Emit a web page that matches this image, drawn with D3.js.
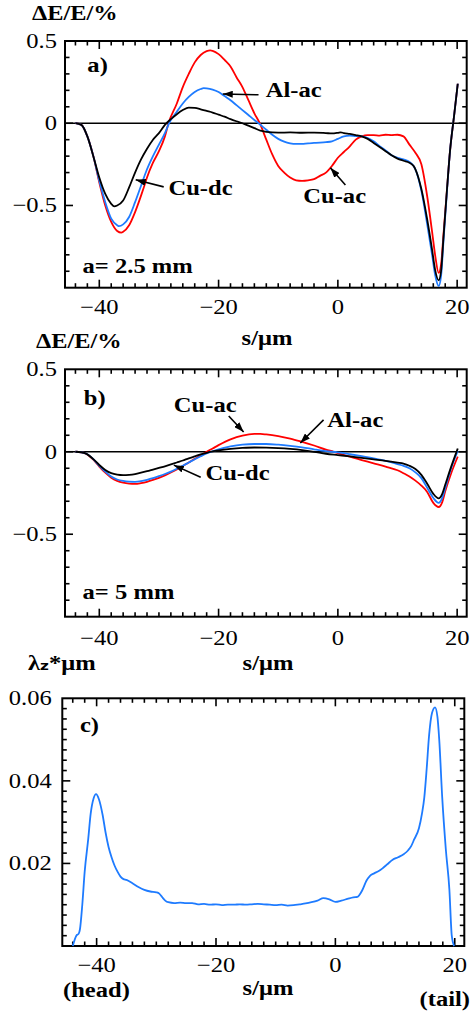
<!DOCTYPE html>
<html><head><meta charset="utf-8">
<script src="https://cdn.jsdelivr.net/npm/d3@7"></script>
<style>html,body{margin:0;padding:0;background:#fff}svg{display:block}</style>
</head><body><svg id="chart" width="475" height="1016"></svg>
<script>
// ---------- tick labels ----------
const xTicksMajor = [-40, -20, 0, 20];
const xTickLabels = ["\u221240", "\u221220", "0", "20"];
const yTicksAB = [0.5, 0, -0.5];
const yTickLabelsAB = ["0.5", "0", "\u22120.5"];
const yTicksC = [0.02, 0.04, 0.06];
const yTickLabelsC = ["0.02", "0.04", "0.06"];

// ---------- panel a (a = 2.5 mm) ----------
const aCuDcS = [-44,-43,-42,-41,-40,-39,-38,-37.5,-37,-36,-35,-34,-33,-32,-31,-30,-29,-28,-27,-26,-25,-24,-23,-22,-21,-20,-19,-18,-17,-16,-15,-14,-13,-12,-10,-8,-6,-4,-2,-1,0,0.5,1,2,3,4,5,6,7,8,9,10,11,12,12.7,13,14,15,15.8,16.3,16.9,17.3,17.7,18.3,18.8,19.5,20.1];
const aCuDcV = [0,-0.01,-0.08,-0.2,-0.33,-0.43,-0.49,-0.505,-0.5,-0.47,-0.39,-0.3,-0.22,-0.155,-0.1,-0.06,-0.01,0.025,0.055,0.08,0.095,0.093,0.085,0.075,0.065,0.052,0.04,0.025,0.012,0,-0.015,-0.03,-0.045,-0.052,-0.057,-0.056,-0.058,-0.057,-0.06,-0.062,-0.058,-0.055,-0.06,-0.065,-0.072,-0.08,-0.095,-0.12,-0.145,-0.17,-0.195,-0.215,-0.228,-0.24,-0.26,-0.28,-0.4,-0.59,-0.77,-0.89,-0.955,-0.9,-0.7,-0.4,-0.17,0.05,0.24];

const aAlAcS = [-44,-43,-42,-41,-40,-39,-38,-37,-36.7,-36,-35,-34,-33,-32,-31,-30,-29,-28.3,-27,-26,-25,-24,-23,-22.5,-22,-21,-20,-19,-18,-17,-16,-15,-14,-13.3,-12,-11,-10,-9,-8,-7,-6,-5,-4,-3,-2,-1,0,1,2,3,4,5,6,7,8,9,10,11,12,12.7,13,14,15,15.8,16.3,16.9,17.3,17.7,18.3,18.8,19.5,20.1];
const aAlAcV = [0,-0.01,-0.08,-0.2,-0.35,-0.48,-0.58,-0.62,-0.626,-0.615,-0.57,-0.48,-0.38,-0.28,-0.2,-0.13,-0.06,0,0.07,0.12,0.16,0.19,0.208,0.213,0.212,0.205,0.19,0.165,0.14,0.11,0.08,0.05,0.02,0,-0.04,-0.07,-0.095,-0.112,-0.122,-0.126,-0.125,-0.122,-0.12,-0.118,-0.115,-0.11,-0.095,-0.08,-0.075,-0.078,-0.08,-0.09,-0.11,-0.14,-0.165,-0.195,-0.21,-0.22,-0.235,-0.26,-0.28,-0.41,-0.62,-0.8,-0.92,-0.99,-0.93,-0.72,-0.41,-0.17,0.05,0.24];

const aCuAcS = [-44,-43,-42,-41,-40,-39,-38,-37,-36.3,-36,-35,-34,-33,-32.5,-32,-31,-30,-29,-28.4,-27,-26,-25,-24,-23,-22,-21.4,-21,-20,-19,-18,-17,-16,-15,-14,-13.1,-12,-11,-10,-9,-8,-7,-6,-5,-4,-3,-2,-1,0,1,2,3,4,5,6,7,8,9,10,11,12,13,14,15,15.8,16.3,16.9,17.3,17.7,18.3,18.8,19.5,20.1];
const aCuAcV = [0,-0.01,-0.08,-0.2,-0.36,-0.5,-0.6,-0.655,-0.665,-0.66,-0.62,-0.54,-0.44,-0.386,-0.33,-0.24,-0.17,-0.08,0,0.12,0.22,0.3,0.37,0.415,0.438,0.443,0.44,0.42,0.385,0.345,0.28,0.22,0.14,0.06,0,-0.1,-0.19,-0.26,-0.3,-0.33,-0.347,-0.35,-0.347,-0.34,-0.32,-0.3,-0.26,-0.21,-0.175,-0.14,-0.1,-0.08,-0.072,-0.072,-0.075,-0.07,-0.072,-0.07,-0.08,-0.13,-0.18,-0.25,-0.45,-0.66,-0.8,-0.91,-0.86,-0.68,-0.4,-0.17,0.05,0.24];

// ---------- panel b (a = 5 mm) ----------
const bCuDcS = [-44,-43,-42.3,-41,-40,-39,-38,-37,-36,-35,-34,-33,-32,-31,-30,-29,-28,-27,-26,-25,-24,-23,-22,-21,-20,-18,-16,-14,-12,-10,-8,-6,-4,-2,0,2,4,6,8,10,11,12,13,14,15,16,16.9,17.5,18,19,20.1];
const bCuDcV = [0,-0.003,-0.01,-0.045,-0.08,-0.11,-0.13,-0.139,-0.142,-0.14,-0.135,-0.127,-0.118,-0.108,-0.098,-0.088,-0.077,-0.065,-0.053,-0.04,-0.028,-0.016,-0.006,0.002,0.008,0.017,0.023,0.026,0.025,0.022,0.017,0.01,0,-0.012,-0.02,-0.028,-0.037,-0.046,-0.055,-0.066,-0.072,-0.085,-0.105,-0.14,-0.195,-0.255,-0.283,-0.255,-0.2,-0.09,0.02];

const bAlAcS = [-44,-43,-42,-41,-40,-39,-38,-37,-36,-35,-34,-33,-32,-31,-30,-29,-28,-27,-26,-25,-24,-23,-22,-21,-20,-18,-16,-14,-12,-10,-8,-6,-4,-2,0,2,4,6,8,10,11,12,13,14,15,16,16.9,17.5,18,19,20.1];
const bAlAcV = [0,-0.003,-0.015,-0.045,-0.085,-0.12,-0.15,-0.168,-0.177,-0.181,-0.182,-0.178,-0.17,-0.16,-0.148,-0.135,-0.12,-0.103,-0.085,-0.065,-0.045,-0.027,-0.01,0.003,0.015,0.032,0.043,0.047,0.047,0.043,0.036,0.027,0.015,0.004,-0.004,-0.015,-0.027,-0.04,-0.055,-0.075,-0.085,-0.1,-0.125,-0.16,-0.22,-0.28,-0.31,-0.28,-0.22,-0.1,0.005];

const bCuAcS = [-44,-43,-42,-41,-40,-39,-38,-37,-36,-35,-34,-33,-32,-31,-30,-29,-28,-27,-26,-25,-24,-23,-22,-21,-20,-18,-16,-14,-13,-12,-10,-8,-6,-4,-2,-0.7,0,2,4,6,8,10,11,12,13,14,15,16,16.9,17.5,18,19,20.1];
const bCuAcV = [0,-0.003,-0.016,-0.048,-0.09,-0.127,-0.157,-0.176,-0.187,-0.193,-0.195,-0.19,-0.182,-0.171,-0.158,-0.143,-0.126,-0.107,-0.086,-0.065,-0.043,-0.021,0,0.02,0.04,0.075,0.098,0.108,0.108,0.105,0.095,0.08,0.06,0.038,0.013,0,-0.008,-0.03,-0.05,-0.07,-0.09,-0.112,-0.13,-0.15,-0.175,-0.205,-0.245,-0.31,-0.335,-0.305,-0.24,-0.13,-0.03];

// ---------- panel c (lambda_z) ----------
const cLamS = [-44,-43.4,-43,-42.8,-42.4,-42,-41.4,-41,-40.5,-40.1,-39.6,-39,-38.5,-38,-37.5,-37,-36.5,-36,-35.5,-35,-34,-33,-32,-31,-30,-29.5,-29,-28.5,-28,-27,-26,-25,-24,-23,-22,-21,-20,-19,-18,-17,-16,-15,-14,-13,-12,-11,-10,-9,-8,-7,-6,-5,-4,-3,-2,-1,0,1,2,3,3.7,4.5,5.2,5.8,6.5,7.2,7.9,8.7,9.6,10.5,11.5,12.2,12.7,13.2,14,14.5,14.9,15.3,15.7,16.2,16.7,17.1,17.4,17.9,18.5,19.1,19.5,19.9];
const cLamV = [0,0.0025,0.003,0.004,0.01,0.018,0.026,0.032,0.0358,0.0368,0.0355,0.0318,0.0275,0.024,0.0215,0.0195,0.018,0.0168,0.0162,0.016,0.0152,0.0143,0.0136,0.0132,0.013,0.0127,0.0118,0.011,0.0106,0.0104,0.0105,0.0104,0.0104,0.0101,0.0102,0.0100,0.0101,0.0099,0.0100,0.0100,0.0101,0.0100,0.0101,0.0102,0.0101,0.0100,0.0099,0.0100,0.0098,0.0099,0.0101,0.0103,0.0106,0.0110,0.0116,0.0113,0.0107,0.0110,0.0114,0.0118,0.0119,0.0135,0.0158,0.0170,0.0176,0.0181,0.0188,0.0198,0.0209,0.0215,0.0223,0.0232,0.0242,0.0258,0.0285,0.032,0.036,0.043,0.051,0.0565,0.0578,0.0555,0.050,0.036,0.0235,0.0137,0.0025,0];

// ---------- annotations (data coordinates) ----------
const annA = [
  {text:"Al-ac", s:-12.1, v:0.16, from:[-13.3,0.173], to:[-19.3,0.178]},
  {text:"Cu-dc", s:-28.4, v:-0.435, from:[-29.2,-0.387], to:[-33.9,-0.344]},
  {text:"Cu-ac", s:-5.8, v:-0.484, from:[1.26,-0.375], to:[-1.26,-0.271]}
];
const annB = [
  {text:"Cu-ac", s:-27.5, v:0.241, from:[-18.3,0.217], to:[-15.8,0.12]},
  {text:"Al-ac", s:-1.76, v:0.15, from:[-2.4,0.193], to:[-6.3,0.053]},
  {text:"Cu-dc", s:-22.2, v:-0.172, from:[-23.0,-0.154], to:[-27.5,-0.081]}
];

// ---------- drawing ----------
const svg = d3.select("#chart");
const RED = "#ff0000", BLUE = "#1e7bff", BLACK = "#000000";
const FONT = "'Liberation Serif','Times New Roman',Times,serif";
const SX = 1.17;

svg.append("defs").append("marker")
  .attr("id","arrow").attr("viewBox","0 0 10 7").attr("refX",10).attr("refY",3.5)
  .attr("markerWidth",10).attr("markerHeight",7).attr("markerUnits","userSpaceOnUse")
  .attr("orient","auto")
  .append("path").attr("d","M0,0 L10,3.5 L0,7 Z").attr("fill","#000");

function txt(g, x, y, str, o = {}) {
  return g.append("text")
    .attr("transform", `translate(${x},${y}) scale(${o.sx || SX},1)`)
    .attr("font-family", FONT)
    .attr("font-size", o.size || 21)
    .attr("font-weight", o.bold ? "bold" : "normal")
    .attr("text-anchor", o.anchor || "start")
    .attr("fill", "#000")
    .text(str);
}

function panel(box, yDomain, yMinor, yMajor, yLabels, yLabelGap, xLabelY) {
  const x = d3.scaleLinear().domain([-45.75, 21.6]).range([box.left, box.right]);
  const y = d3.scaleLinear().domain(yDomain).range([box.bottom, box.top]);
  const g = svg.append("g");
  const tick = (x1,y1,x2,y2) => g.append("line").attr("x1",x1).attr("y1",y1).attr("x2",x2).attr("y2",y2)
      .attr("stroke","#000").attr("stroke-width",1.6);
  const isMajor = (arr, t) => arr.some(m => Math.abs(m - t) < 1e-9);
  d3.range(-44, 21, 2).forEach(t => {
    const L = isMajor(xTicksMajor, t) ? 8 : 4.5;
    tick(x(t), box.bottom, x(t), box.bottom - L);
    tick(x(t), box.top, x(t), box.top + L);
  });
  yMinor.forEach(t => {
    const L = isMajor(yMajor, t) ? 8 : 4.5;
    tick(box.left, y(t), box.left + L, y(t));
    tick(box.right, y(t), box.right - L, y(t));
  });
  g.append("rect").attr("x",box.left).attr("y",box.top)
    .attr("width",box.right-box.left).attr("height",box.bottom-box.top)
    .attr("fill","none").attr("stroke","#000").attr("stroke-width",2);
  xTicksMajor.forEach((t,i) => txt(g, x(t), xLabelY, xTickLabels[i], {anchor:"middle"}));
  yMajor.forEach((t,i) => txt(g, box.left - yLabelGap, y(t) + 7, yLabels[i], {anchor:"end"}));
  return {x, y, g};
}

function drawLine(p, S, V, color) {
  const line = d3.line().x(d => p.x(d[0])).y(d => p.y(d[1])).curve(d3.curveMonotoneX);
  p.g.append("path").datum(S.map((s,i) => [s, V[i]]))
    .attr("d", line).attr("fill","none").attr("stroke",color)
    .attr("stroke-width",1.8).attr("stroke-linejoin","round");
}

function zeroLine(p) {
  const d = p.x.domain();
  p.g.append("line").attr("x1",p.x(d[0])).attr("x2",p.x(d[1]))
    .attr("y1",p.y(0)).attr("y2",p.y(0)).attr("stroke","#000").attr("stroke-width",1.5);
}

function annotate(p, list) {
  list.forEach(a => {
    txt(p.g, p.x(a.s), p.y(a.v), a.text, {bold:true, size:21});
    p.g.append("line")
      .attr("x1",p.x(a.from[0])).attr("y1",p.y(a.from[1]))
      .attr("x2",p.x(a.to[0])).attr("y2",p.y(a.to[1]))
      .attr("stroke","#000").attr("stroke-width",1.6).attr("marker-end","url(#arrow)");
  });
}

const abMinor = d3.range(-9, 5).map(d => d / 10);
const cMinor = d3.range(1, 24).map(d => d * 0.0025);

// Panel a
const pa = panel({left:65, right:466.7, top:41, bottom:287.7}, [-1, 0.5], abMinor, yTicksAB, yTickLabelsAB, 8, 314);
zeroLine(pa);
drawLine(pa, aCuAcS, aCuAcV, RED);
drawLine(pa, aAlAcS, aAlAcV, BLUE);
drawLine(pa, aCuDcS, aCuDcV, BLACK);
annotate(pa, annA);
txt(pa.g, pa.x(-42), pa.y(0.31), "a)", {bold:true});
txt(pa.g, pa.x(-42.8), pa.y(-0.909), "a= 2.5 mm", {bold:true});
txt(pa.g, 32, 20, "\u0394E/E/%", {bold:true, sx:1.16});
txt(pa.g, 267, 345, "s/\u03bcm", {bold:true, anchor:"middle"});

// Panel b
const pb = panel({left:65, right:466.7, top:369.3, bottom:616.7}, [-1, 0.5], abMinor, yTicksAB, yTickLabelsAB, 8, 645);
zeroLine(pb);
drawLine(pb, bCuAcS, bCuAcV, RED);
drawLine(pb, bAlAcS, bAlAcV, BLUE);
drawLine(pb, bCuDcS, bCuDcV, BLACK);
annotate(pb, annB);
txt(pb.g, pb.x(-42.6), pb.y(0.285), "b)", {bold:true});
txt(pb.g, pb.x(-42.8), pb.y(-0.89), "a= 5 mm", {bold:true});
txt(pb.g, 36, 348, "\u0394E/E/%", {bold:true, sx:1.16});
txt(pb.g, 268, 670, "s/\u03bcm", {bold:true, anchor:"middle"});

// Panel c
const pc = panel({left:62.3, right:464.3, top:698.3, bottom:946}, [0, 0.06], cMinor, yTicksC, yTickLabelsC, 10.5, 972);
drawLine(pc, cLamS, cLamV, BLUE);
txt(pc.g, pc.x(-42.8), pc.y(0.0519), "c)", {bold:true});
const lam = txt(pc.g, 28, 670, "\u03bb", {bold:true});
lam.append("tspan").attr("font-family","'DejaVu Sans',sans-serif").attr("font-size",13).text("z");
lam.append("tspan").text("*\u03bcm");
txt(pc.g, 268, 995, "s/\u03bcm", {bold:true, anchor:"middle"});
txt(pc.g, 63, 997, "(head)", {bold:true});
txt(pc.g, 470, 1006, "(tail)", {bold:true, anchor:"end"});
</script></body></html>
